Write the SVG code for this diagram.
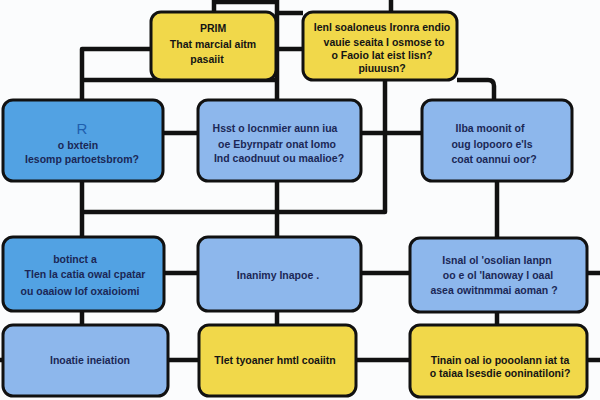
<svg xmlns="http://www.w3.org/2000/svg" width="600" height="400" viewBox="0 0 600 400">
<style>
.box{stroke:#111;stroke-width:3}
.y{fill:#f1d84a}
.b{fill:#52a2e3}
.l{fill:#8db7ec}
.c{fill:none;stroke:#111;stroke-width:4.5;stroke-linejoin:round}
text{font-family:"Liberation Sans Narrow","Liberation Sans",Arial,sans-serif;font-stretch:condensed;font-weight:bold;font-size:10.5px;text-anchor:middle;dominant-baseline:central}
.tb{fill:#1b2756}
.ty{fill:#141414}
</style>
<rect width="600" height="400" fill="#fbfcfd"/>
<g id="connectors">
<path class="c" d="M214,0 V12 M214,2 H277 M277,0 V100 M277,13 H303 M277,49 H303 M391,0 V12"/>
<path class="c" d="M151,49 H82 V100 M82,80 H277 M385,80 V212 H82 M457,80 H488 Q494,80 494,86 V100"/>
<path class="c" d="M163,133 H198 M361,133 H422 M82,181 V237 M277,181 V237 M497,181 V238"/>
<path class="c" d="M164,273 H198 M361,273 H410 M587,273 H600 M82,311 V325 M277,311 V325 M497,312 V325"/>
<path class="c" d="M0,360 H3 M168,360 H199 M356,360 H410 M587,360 H600"/>
</g>
<g id="n1"><rect class="box y" x="151" y="12" width="125" height="68" rx="10"/>
<text class="ty" x="213" y="28">PRIM</text><text class="ty" x="213" y="44">That marcial aitm</text><text class="ty" x="207" y="59">pasaiit</text></g>
<g id="n2"><rect class="box y" x="303" y="12" width="154" height="68" rx="10"/>
<text class="ty" x="382" y="27">Ienl soaloneus Ironra endio</text><text class="ty" x="384" y="42">vauie seaita I osmose to</text><text class="ty" x="382" y="55">o Faoio lat eist lisn?</text><text class="ty" x="382" y="68">piuuusn?</text></g>
<g id="n3"><rect class="box b" x="3" y="100" width="160" height="81" rx="10"/>
<text class="tb" x="82" y="128" style="font-size:15px;font-weight:normal;fill:#1f5fae">R</text><text class="tb" x="78" y="145">o bxtein</text><text class="tb" x="82" y="159">Iesomp partoetsbrom?</text></g>
<g id="n4"><rect class="box l" x="198" y="100" width="163" height="81" rx="10"/>
<text class="tb" x="275" y="128">Hsst o locnmier aunn iua</text><text class="tb" x="277" y="144">oe Ebyrnpatr onat Iomo</text><text class="tb" x="279" y="158">Ind caodnuut ou maalioe?</text></g>
<g id="n5"><rect class="box l" x="422" y="100" width="150" height="81" rx="10"/>
<text class="tb" x="490" y="128">Ilba moonit of</text><text class="tb" x="492" y="144">oug lopooro e'ls</text><text class="tb" x="494" y="159">coat oannui oor?</text></g>
<g id="n6"><rect class="box b" x="3" y="237" width="161" height="74" rx="10"/>
<text class="tb" x="75" y="259">botinct a</text><text class="tb" x="85" y="274">Tlen la catia owal cpatar</text><text class="tb" x="80" y="291">ou oaaiow lof oxaioiomi</text></g>
<g id="n7"><rect class="box l" x="198" y="237" width="163" height="74" rx="10"/>
<text class="tb" x="278" y="275">Inanimy Inapoe .</text></g>
<g id="n8"><rect class="box l" x="410" y="238" width="177" height="74" rx="10"/>
<text class="tb" x="497" y="260">Isnal ol 'osolian Ianpn</text><text class="tb" x="498" y="275">oo e ol 'Ianoway l oaal</text><text class="tb" x="494" y="290">asea owitnmmai aoman ?</text></g>
<g id="n9"><rect class="box l" x="3" y="325" width="165" height="71" rx="10"/>
<text class="tb" x="90" y="360">Inoatie ineiation</text></g>
<g id="n10"><rect class="box y" x="199" y="325" width="157" height="71" rx="10"/>
<text class="ty" x="275" y="360">Tlet tyoaner hmtl coaiitn</text></g>
<g id="n11"><rect class="box y" x="410" y="325" width="177" height="72" rx="10"/>
<text class="ty" x="500" y="360">Tinain oal io pooolann iat ta</text><text class="ty" x="500" y="373">o taiaa lsesdie ooninatiloni?</text></g>
</svg>
